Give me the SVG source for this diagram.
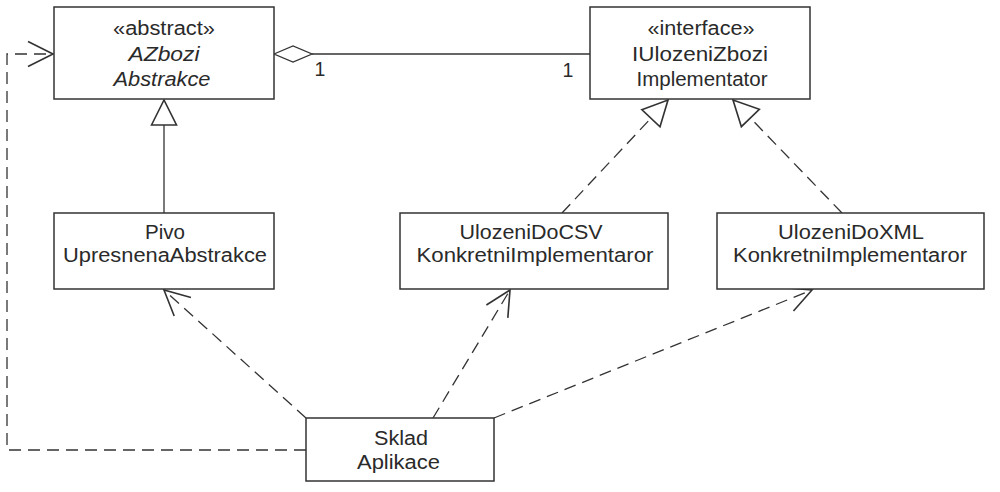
<svg xmlns="http://www.w3.org/2000/svg" width="1000" height="492" viewBox="0 0 1000 492">
<style>
.box{fill:#fff;stroke:#333;stroke-width:1.5}
.t{font-family:"Liberation Sans",Arial,sans-serif;font-size:19.5px;fill:#2a2a2a;text-anchor:middle}
.i{font-style:italic}
.ln{fill:none;stroke:#333;stroke-width:1.3}
.d{stroke-dasharray:12 7}
</style>
<defs>
<marker id="open" markerUnits="userSpaceOnUse" markerWidth="30" markerHeight="30" viewBox="-22 -12 24 24" refX="0" refY="0" orient="auto">
<path d="M-20,-10 L0,0 L-20,10" fill="none" stroke="#333" stroke-width="1.3"/>
</marker>
<marker id="tri" markerUnits="userSpaceOnUse" markerWidth="30" markerHeight="30" viewBox="-22 -12 24 24" refX="0" refY="0" orient="auto">
<path d="M-20,-10 L0,0 L-20,10 Z" fill="#fff" stroke="#333" stroke-width="1.3"/>
</marker>
</defs>
<g id="connectors">
<line class="ln" x1="312" y1="54" x2="590" y2="54"/>
<polygon points="274,54 293,46 312,54 293,62" fill="#fff" stroke="#333" stroke-width="1.3"/>
<text class="t" x="320" y="76">1</text>
<text class="t" x="568" y="77">1</text>
<line class="ln" x1="164" y1="213" x2="164" y2="100" marker-end="url(#tri)"/>
<line class="ln d" x1="562" y1="213" x2="668" y2="100" marker-end="url(#tri)"/>
<line class="ln d" x1="842" y1="213" x2="733" y2="100" marker-end="url(#tri)"/>
<line class="ln d" x1="306" y1="418" x2="164" y2="290" marker-end="url(#open)"/>
<line class="ln d" x1="433" y1="418" x2="510" y2="290" marker-end="url(#open)"/>
<line class="ln d" x1="494" y1="418" x2="812" y2="290" marker-end="url(#open)"/>
<path class="ln d" d="M306,450 L7,450 L7,54 L53,54" marker-end="url(#open)"/>
</g>
<g id="AZbozi">
<rect class="box" x="54" y="7" width="220" height="92"/>
<text class="t" x="164" y="35" textLength="102" lengthAdjust="spacingAndGlyphs">«abstract»</text>
<text class="t i" x="164" y="61" textLength="71" lengthAdjust="spacingAndGlyphs">AZbozi</text>
<text class="t i" x="162" y="86" textLength="97" lengthAdjust="spacingAndGlyphs">Abstrakce</text>
</g>
<g id="IUlozeniZbozi">
<rect class="box" x="590" y="7" width="220" height="92"/>
<text class="t" x="701" y="35" textLength="107" lengthAdjust="spacingAndGlyphs">«interface»</text>
<text class="t" x="700" y="61" textLength="136" lengthAdjust="spacingAndGlyphs">IUlozeniZbozi</text>
<text class="t" x="702" y="86" textLength="131" lengthAdjust="spacingAndGlyphs">Implementator</text>
</g>
<g id="Pivo">
<rect class="box" x="54" y="213" width="220" height="76"/>
<text class="t" x="165" y="238.5" textLength="40" lengthAdjust="spacingAndGlyphs">Pivo</text>
<text class="t" x="165" y="262" textLength="204" lengthAdjust="spacingAndGlyphs">UpresnenaAbstrakce</text>
</g>
<g id="UlozeniDoCSV">
<rect class="box" x="400" y="213" width="268" height="76"/>
<text class="t" x="531" y="238.5" textLength="143" lengthAdjust="spacingAndGlyphs">UlozeniDoCSV</text>
<text class="t" x="535" y="262" textLength="237" lengthAdjust="spacingAndGlyphs">KonkretniImplementaror</text>
</g>
<g id="UlozeniDoXML">
<rect class="box" x="717" y="213" width="267" height="76"/>
<text class="t" x="851" y="238.5" textLength="146" lengthAdjust="spacingAndGlyphs">UlozeniDoXML</text>
<text class="t" x="850" y="262" textLength="234" lengthAdjust="spacingAndGlyphs">KonkretniImplementaror</text>
</g>
<g id="Sklad">
<rect class="box" x="306" y="418" width="188" height="63"/>
<text class="t" x="401" y="445" textLength="54" lengthAdjust="spacingAndGlyphs">Sklad</text>
<text class="t" x="398.5" y="469" textLength="83" lengthAdjust="spacingAndGlyphs">Aplikace</text>
</g>
</svg>
